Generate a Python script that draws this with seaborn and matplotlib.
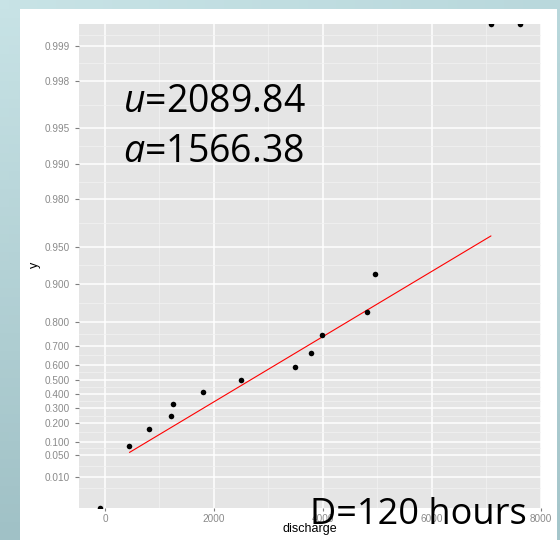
import numpy as np
import pandas as pd
import matplotlib
matplotlib.use("Agg")
import matplotlib.pyplot as plt
import seaborn as sns
from matplotlib.patches import Rectangle

# ---------------- data ----------------
discharge = [-91, 446, 812, 1208, 1257, 1800, 2496, 3490, 3782, 3978, 4813, 4953, 7080, 7607]
prob = [0.0, 0.083, 0.167, 0.250, 0.333, 0.417, 0.500, 0.583, 0.667, 0.750, 0.833, 0.917, 1.0, 1.0]
u_param = 2089.84
a_param = 1566.38
fit_x = [450, 7082]
y_tick_probs = [0.010, 0.050, 0.100, 0.200, 0.300, 0.400, 0.500, 0.600, 0.700,
                0.800, 0.900, 0.950, 0.980, 0.990, 0.995, 0.998, 0.999]
y_tick_labels = ["0.010", "0.050", "0.100", "0.200", "0.300", "0.400", "0.500", "0.600",
                 "0.700", "0.800", "0.900", "0.950", "0.980", "0.990", "0.995", "0.998", "0.999"]
x_ticks = [0, 2000, 4000, 6000, 8000]
x_tick_labels = ["0", "2000", "4000", "6000", "8000"]
x_minor = [1000, 3000, 5000, 7000]
title_u = "2089.84"
title_a = "1566.38"
duration_text = "D=120 hours"


def gumbel(p):
    p = np.asarray(p, dtype=float)
    with np.errstate(divide="ignore"):
        return -np.log(-np.log(p))


sns.set_style("white")
plt.rcParams["font.family"] = ["Liberation Sans", "DejaVu Sans"]
plt.rcParams["mathtext.fontset"] = "custom"
plt.rcParams["mathtext.it"] = "Open Sans:italic"
plt.rcParams["mathtext.rm"] = "Open Sans"

W, H = 560, 540
fig = plt.figure(figsize=(W / 100, H / 100), dpi=100)

# slide background gradient
bg = fig.add_axes([0, 0, 1, 1], zorder=-10)
c_tl = np.array([200, 227, 230]) / 255
c_tr = np.array([185, 216, 220]) / 255
c_bl = np.array([160, 193, 198]) / 255
c_br = np.array([165, 198, 203]) / 255
gy, gx = np.mgrid[0:1:60j, 0:1:60j]
img = (c_tl[None, None, :] * ((1 - gx) * (1 - gy))[..., None]
       + c_tr[None, None, :] * (gx * (1 - gy))[..., None]
       + c_bl[None, None, :] * ((1 - gx) * gy)[..., None]
       + c_br[None, None, :] * (gx * gy)[..., None])
bg.imshow(img, extent=[0, 1, 1, 0], aspect="auto")
bg.set_xlim(0, 1)
bg.set_ylim(1, 0)
bg.axis("off")
bg.add_patch(Rectangle((20 / W, 9 / H), (557 - 20) / W, 1, facecolor="white",
                       edgecolor="none", transform=bg.transAxes))
# note: bg y axis inverted; rectangle drawn in axes coords (origin bottom)
bg.patches[-1].set_xy((20 / W, 0))
bg.patches[-1].set_height(1 - 9 / H)

# main panel
left, right, top, bottom = 79, 541, 24, 507.7
ax = fig.add_axes([left / W, 1 - bottom / H, (right - left) / W, (bottom - top) / H])
ax.set_facecolor("#E5E5E5")
for s in ax.spines.values():
    s.set_visible(False)

xmin, xmax = min(discharge), max(discharge)
span = xmax - xmin
ax.set_xlim(xmin - 0.05 * span, xmax + 0.05 * span)
zlo, zhi = -2.128, 7.332
ax.set_ylim(zlo, zhi)

zmaj = gumbel(y_tick_probs)
d = zmaj[1] - zmaj[0]
ext = np.concatenate([[zmaj[0] - d], zmaj, [zmaj[-1] + d]])
zmin_ = (ext[:-1] + ext[1:]) / 2

ax.set_yticks(zmaj)
ax.set_yticklabels(y_tick_labels)
ax.set_yticks(zmin_, minor=True)
ax.set_xticks(x_ticks)
ax.set_xticklabels(x_tick_labels)
ax.set_xticks(x_minor, minor=True)
ax.grid(which="major", color="white", linewidth=1.1)
ax.grid(which="minor", color="#F2F2F2", linewidth=0.55)
ax.set_axisbelow(True)
ax.tick_params(which="minor", length=0)
ax.tick_params(axis="y", which="major", length=3.2, width=0.8, color="#7F7F7F",
               labelcolor="#8A8A8A", labelsize=7.2, pad=3.6, left=True)
ax.tick_params(axis="x", which="major", length=2.4, width=0.8, color="#7F7F7F",
               labelcolor="#8A8A8A", labelsize=7.2, pad=2.4, bottom=True)

df = pd.DataFrame({"discharge": discharge, "y": np.clip(gumbel(prob), zlo, zhi)})
sns.scatterplot(data=df, x="discharge", y="y", ax=ax, color="black", s=16,
                edgecolor="black", linewidth=0, zorder=3)
fit_df = pd.DataFrame({"discharge": fit_x,
                       "y": (np.asarray(fit_x, float) - u_param) / a_param})
sns.lineplot(data=fit_df, x="discharge", y="y", ax=ax, color="red", linewidth=0.8, zorder=2)
ax.set_xlabel("")
ax.set_ylabel("")

fig.text(35 / W, 1 - 265 / H, "y", rotation=90, ha="center", va="center",
         fontsize=9, color="black")
fig.text(310 / W, 1 - 529 / H, "discharge", ha="center", va="center",
         fontsize=9, color="black")

fig.text(123 / W, 1 - 111.7 / H, r"$\mathit{u}$=" + title_u, fontsize=27,
         family="Open Sans", ha="left", va="baseline", color="black")
fig.text(123 / W, 1 - 161.7 / H, r"$\mathit{a}$=" + title_a, fontsize=27,
         family="Open Sans", ha="left", va="baseline", color="black")
fig.text(310 / W, 1 - 524 / H, duration_text, fontsize=26,
         family="Open Sans", ha="left", va="baseline", color="black", zorder=10)

fig.savefig("out.png", dpi=100)
